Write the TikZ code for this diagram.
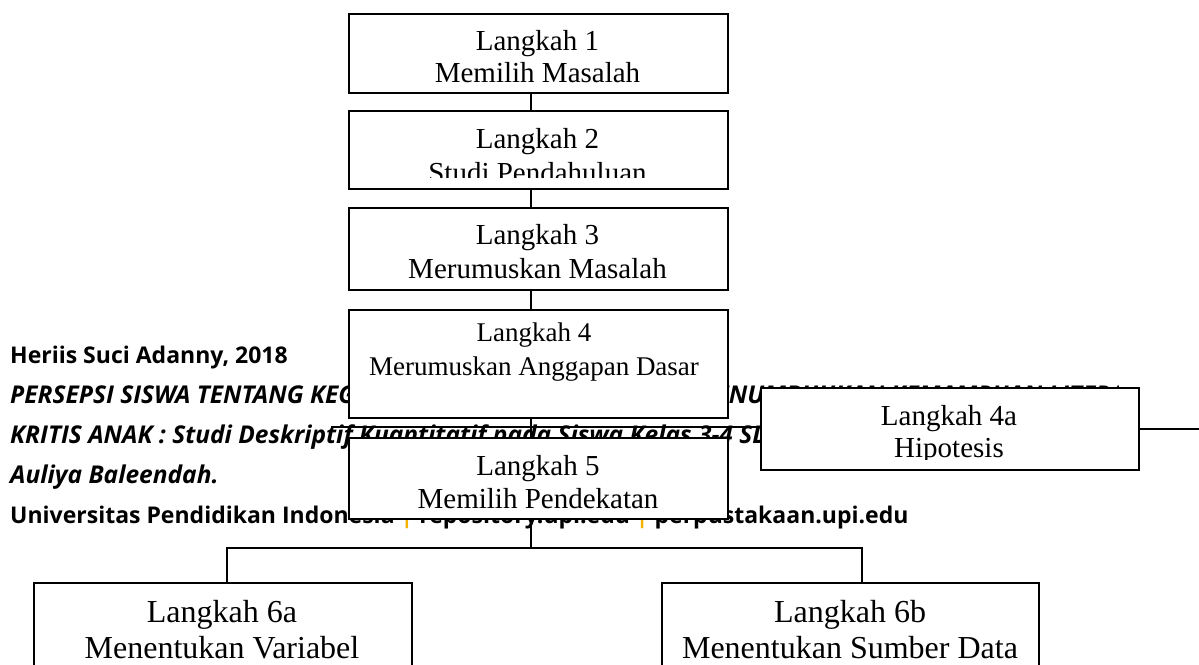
\documentclass[tikz,border=0pt]{standalone}
\usepackage{fontspec}
\setmainfont{Liberation Serif}
\newfontfamily\footfont{Open Sans}
\definecolor{sepcol}{RGB}{242,180,0}
\begin{document}
\begin{tikzpicture}[x=1pt,y=-1pt,
  box/.style={draw=black, line width=1.6pt, fill=white, inner sep=0pt, anchor=north west},
  lbl/.style={anchor=base, inner sep=0pt, font=\fontsize{29}{33}\selectfont},
  lblsm/.style={anchor=base, inner sep=0pt, font=\fontsize{27}{31}\selectfont},
  lblbig/.style={anchor=base, inner sep=0pt, font=\fontsize{32}{36}\selectfont},
  foot/.style={anchor=base west, inner sep=0pt, font=\footfont\bfseries\fontsize{23}{27}\selectfont},
  footit/.style={anchor=base west, inner sep=0pt, font=\footfont\bfseries\itshape\fontsize{24.5}{28}\selectfont},
  conn/.style={draw=black, line width=1.6pt}]
\clip (0,0) rectangle (1199,664);
\fill[white] (0,0) rectangle (1199,664);

% footer text (behind the boxes)
\node[foot]   (f1) at (10,363) {Heriis Suci Adanny, 2018};
\begin{scope}
  \clip (0,370) rectangle (1118,412);
  \node[footit] (f2) at (10,403) {PERSEPSI SISWA TENTANG KEGIATAN MENDONGENG DALAM MENUMBUHKAN KEMAMPUAN LITERASI};
\end{scope}
\node[footit] (f3) at (10,443) {KRITIS ANAK : Studi Deskriptif Kuantitatif pada Siswa Kelas 3-4 SD};
\node[footit] (f4) at (10,483) {Auliya Baleendah.};
\node[foot]   (f5) at (10,523) {Universitas Pendidikan Indonesia {\color{sepcol}|} repository.upi.edu {\color{sepcol}|} perpustakaan.upi.edu};

% boxes
\node[box, minimum width=379pt, minimum height=79pt]  (b1)  at (348,13)  {};
\node[box, minimum width=379pt, minimum height=78pt]  (b2)  at (348,110) {};
\node[box, minimum width=379pt, minimum height=82pt]  (b3)  at (348,207) {};
\node[box, minimum width=379pt, minimum height=108pt] (b4)  at (348,309) {};
\node[box, minimum width=378pt, minimum height=82pt]  (b4a) at (760,387) {};
\node[box, minimum width=379pt, minimum height=81pt]  (b5)  at (348,437) {};
\node[box, minimum width=378pt, minimum height=110pt] (b6a) at (33,582)  {};
\node[box, minimum width=377pt, minimum height=110pt] (b6b) at (661,582) {};

% labels
\node[lbl] (t1a) at (537.5,50) {Langkah 1};
\node[lbl] (t1b) at (537.5,82) {Memilih Masalah};
\node[lbl] (t2a) at (537.5,148) {Langkah 2};
\begin{scope}
  \clip (349,111) rectangle (726,177);
  \node[lbl] (t2b) at (537.5,182) {Studi Pendahuluan};
\end{scope}
\node[lbl] (t3a) at (537.5,244) {Langkah 3};
\node[lbl] (t3b) at (537.5,278) {Merumuskan Masalah};
\node[lblsm] (t4a) at (534,341) {Langkah 4};
\node[lblsm] (t4b) at (534,375) {Merumuskan Anggapan Dasar};
\node[lbl] (t4c) at (949,425) {Langkah 4a};
\begin{scope}
  \clip (761,388) rectangle (1137,459);
  \node[lbl] (t4d) at (949,457) {Hipotesis};
\end{scope}
\node[lbl] (t5a) at (538,475) {Langkah 5};
\node[lbl] (t5b) at (538,508) {Memilih Pendekatan};
\node[lblbig] (t6a) at (222,622) {Langkah 6a};
\node[lblbig] (t6b) at (222,658) {Menentukan Variabel};
\node[lblbig] (t6c) at (850,622) {Langkah 6b};
\node[lblbig] (t6d) at (850,658) {Menentukan Sumber Data};

% connectors
\coordinate (spine) at (531,0);
\coordinate (lft) at (331,427);
\coordinate (rgt) at (1199,429);
\coordinate (j)  at (531,548);
\coordinate (ja) at (227,548);
\coordinate (jb) at (862,548);
\draw[conn] (b1.south -| spine) -- (b2.north -| spine);
\draw[conn] (b2.south -| spine) -- (b3.north -| spine);
\draw[conn] (b3.south -| spine) -- (b4.north -| spine);
\draw[conn] (b4.south -| spine) -- (b5.north -| spine);
\draw[conn] (lft) -- (lft -| b4a.west);
\draw[conn] (b4a.east |- rgt) -- (rgt);
\draw[conn] (b5.south -| j) -- (j);
\draw[conn] (b6a.north -| ja) -- (ja) -- (jb) -- (b6b.north -| jb);
\end{tikzpicture}
\end{document}
